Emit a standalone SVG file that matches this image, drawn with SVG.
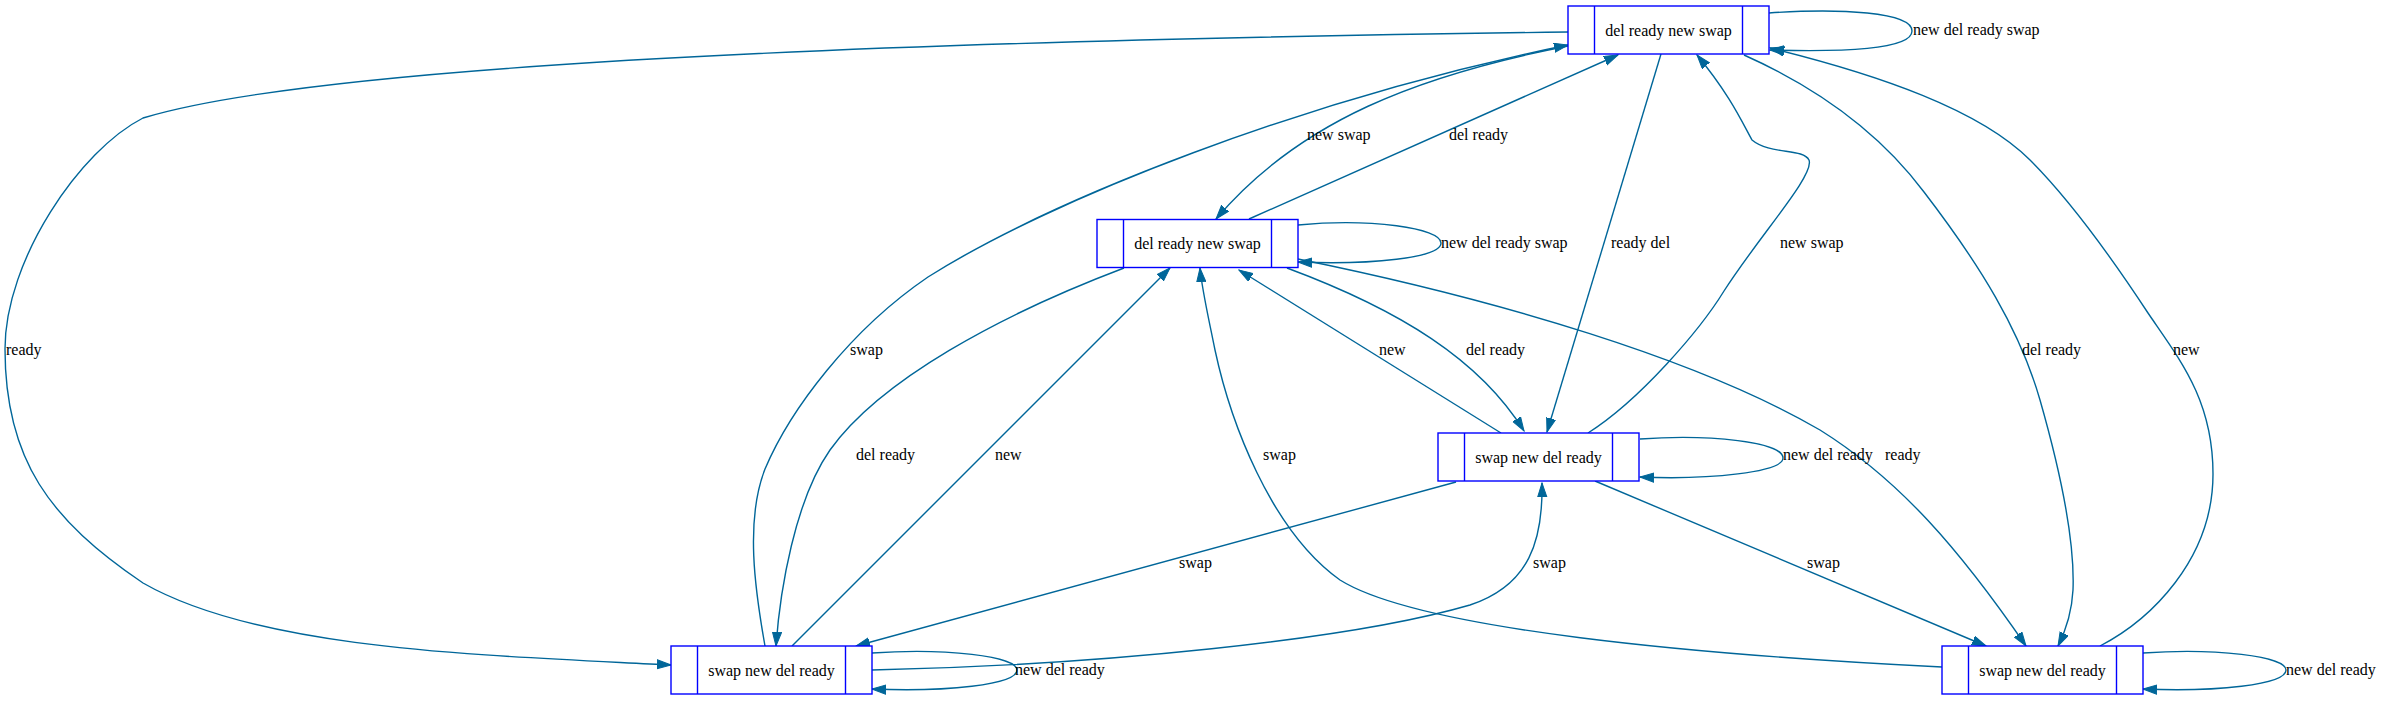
<svg xmlns="http://www.w3.org/2000/svg" width="2381" height="701" viewBox="0 0 2381 701">
<style>
.bg{fill:#ffffff}
.node rect{fill:#ffffff;stroke:#0000ff;stroke-width:1.4}
.node line{stroke:#0000ff;stroke-width:1.4}
.node text{font-family:"Liberation Serif","Times New Roman",serif;font-size:16px;fill:#000;text-anchor:middle}
.edge{fill:none;stroke:#006699;stroke-width:1.4;marker-end:url(#arr)}
.noarr{fill:none;stroke:#006699;stroke-width:1.4}
.lbl{font-family:"Liberation Serif","Times New Roman",serif;font-size:16px;fill:#000}
</style>
<defs>
<marker id="arr" markerUnits="userSpaceOnUse" markerWidth="15" markerHeight="11" refX="14" refY="5" orient="auto">
<path d="M0,0.4 L14,5 L0,9.6 z" fill="#006699" stroke="#006699" stroke-width="1"/>
</marker>
</defs>
<rect class="bg" x="0" y="0" width="2381" height="701"/>
<g id="edges">
<path class="edge" d="M1568,32 C1100,38 350,55 143,118 C80,150 5,260 5,349 C5,460 50,520 143,583 C260,650 480,655 671,665"/>
<path class="edge" d="M1769,13 C1840,8 1912,12 1912,31 C1912,50 1840,52 1770,50"/>
<path class="edge" d="M1249,219 L1618,55"/>
<path class="edge" d="M1568,46 C1420,75 1300,120 1216,219"/>
<path class="edge" d="M765,646 C755,590 745,520 765,469 C790,410 850,330 928,277 C1050,200 1300,100 1568,45"/>
<path class="edge" d="M1298,225 C1370,218 1441,228 1441,243 C1441,258 1370,265 1298,262"/>
<path class="edge" d="M1661,54 L1547,432"/>
<path class="edge" d="M1588,433 C1640,400 1700,330 1724,291 C1760,235 1815,175 1809,160 C1803,148 1770,155 1752,140 C1742,122 1730,95 1697,55"/>
<path class="edge" d="M1744,55 C1800,80 1870,120 1924,192 C1980,265 2020,330 2040,400 C2060,470 2075,540 2073,590 C2072,610 2066,630 2058,646"/>
<path class="edge" d="M2100,646 C2150,620 2213,560 2213,474 C2213,400 2180,360 2148,313 C2100,240 2060,190 2030,160 C1980,110 1880,75 1770,48"/>
<path class="edge" d="M1124,268 C1000,315 880,380 830,450 C795,500 780,590 776,646"/>
<path class="edge" d="M792,646 L1170,268"/>
<path class="edge" d="M1942,667 C1700,655 1420,630 1340,580 C1270,530 1230,420 1215,350 C1208,315 1202,290 1200,268"/>
<path class="edge" d="M1287,268 C1400,310 1480,360 1524,431"/>
<path class="edge" d="M1501,433 L1239,270"/>
<path class="edge" d="M1298,259 C1500,300 1700,360 1820,430 C1900,480 1960,550 2026,646"/>
<path class="edge" d="M1640,439 C1710,434 1783,442 1783,458 C1783,472 1710,480 1640,477"/>
<path class="edge" d="M1456,482 L856,646"/>
<path class="edge" d="M1595,481 L1986,646"/>
<path class="edge" d="M872,670 C1100,665 1350,640 1470,605 C1530,585 1543,540 1542,483"/>
<path class="edge" d="M872,653 C945,648 1017,656 1017,670 C1017,685 945,692 872,689"/>
<path class="edge" d="M2143,653 C2215,648 2286,656 2286,670 C2286,685 2215,692 2143,689"/>
<text class="lbl" x="6" y="355">ready</text>
<text class="lbl" x="1913" y="35">new del ready swap</text>
<text class="lbl" x="1449" y="140">del ready</text>
<text class="lbl" x="1307" y="140">new swap</text>
<text class="lbl" x="850" y="355">swap</text>
<text class="lbl" x="1441" y="248">new del ready swap</text>
<text class="lbl" x="1611" y="248">ready del</text>
<text class="lbl" x="1780" y="248">new swap</text>
<text class="lbl" x="2022" y="355">del ready</text>
<text class="lbl" x="2173" y="355">new</text>
<text class="lbl" x="856" y="460">del ready</text>
<text class="lbl" x="995" y="460">new</text>
<text class="lbl" x="1263" y="460">swap</text>
<text class="lbl" x="1466" y="355">del ready</text>
<text class="lbl" x="1379" y="355">new</text>
<text class="lbl" x="1885" y="460">ready</text>
<text class="lbl" x="1783" y="460">new del ready</text>
<text class="lbl" x="1179" y="568">swap</text>
<text class="lbl" x="1807" y="568">swap</text>
<text class="lbl" x="1533" y="568">swap</text>
<text class="lbl" x="1015" y="675">new del ready</text>
<text class="lbl" x="2286" y="675">new del ready</text>
</g>
<g id="n1" class="node"><rect x="1568" y="6" width="201" height="48"/><line x1="1594.5" y1="6" x2="1594.5" y2="54"/><line x1="1742.5" y1="6" x2="1742.5" y2="54"/><text x="1668.5" y="35.5">del ready new swap</text></g>
<g id="n2" class="node"><rect x="1097" y="219.5" width="201" height="48"/><line x1="1123.5" y1="219.5" x2="1123.5" y2="267.5"/><line x1="1271.5" y1="219.5" x2="1271.5" y2="267.5"/><text x="1197.5" y="249">del ready new swap</text></g>
<g id="n3" class="node"><rect x="1438" y="433" width="201" height="48"/><line x1="1464.5" y1="433" x2="1464.5" y2="481"/><line x1="1612.5" y1="433" x2="1612.5" y2="481"/><text x="1538.5" y="462.5">swap new del ready</text></g>
<g id="n4" class="node"><rect x="671" y="646" width="201" height="48"/><line x1="697.5" y1="646" x2="697.5" y2="694"/><line x1="845.5" y1="646" x2="845.5" y2="694"/><text x="771.5" y="675.5">swap new del ready</text></g>
<g id="n5" class="node"><rect x="1942" y="646" width="201" height="48"/><line x1="1968.5" y1="646" x2="1968.5" y2="694"/><line x1="2116.5" y1="646" x2="2116.5" y2="694"/><text x="2042.5" y="675.5">swap new del ready</text></g>
</svg>
